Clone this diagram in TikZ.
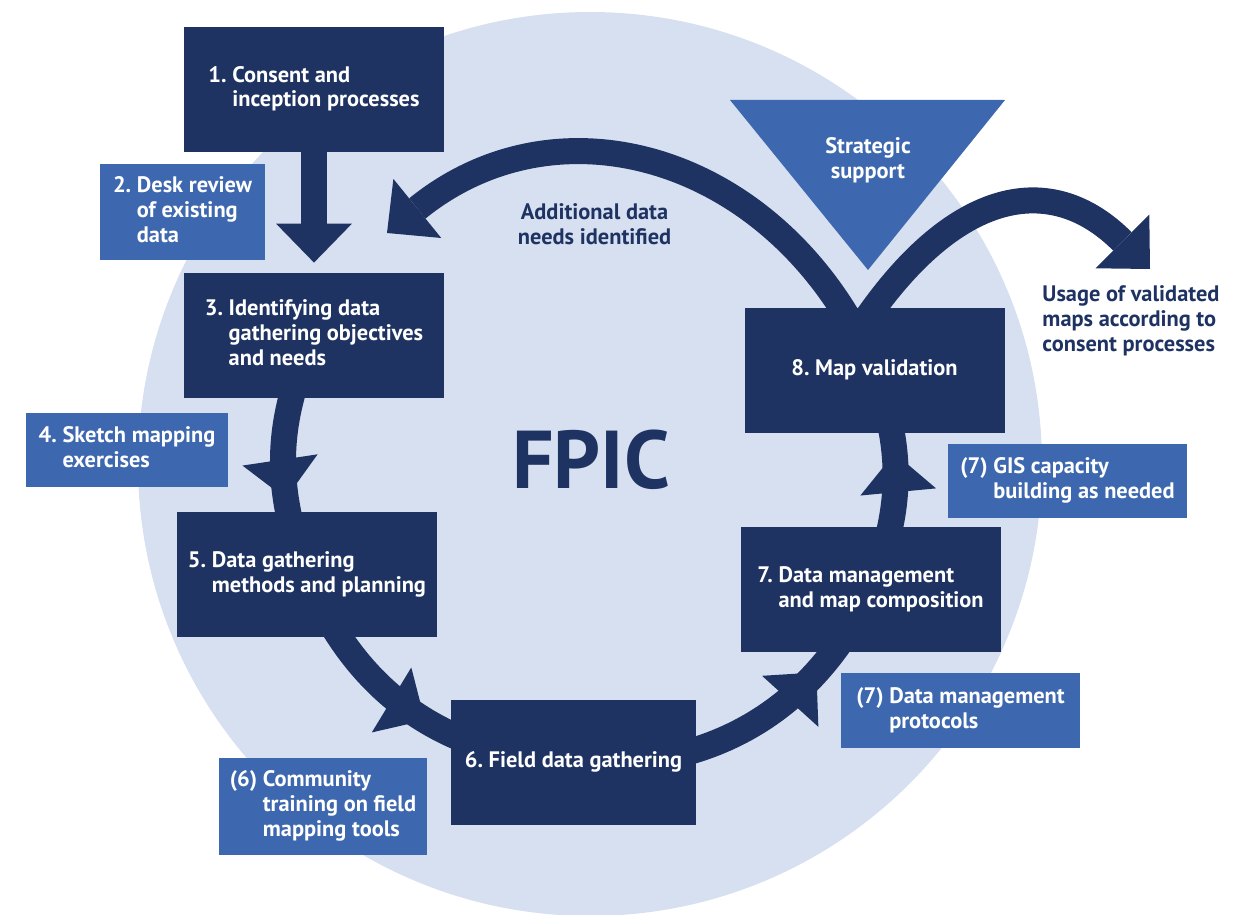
\documentclass[tikz,border=0pt]{standalone}
\usepackage{fontspec}
\setmainfont{PT Sans}
\usetikzlibrary{arrows.meta}
\usetikzlibrary{decorations.markings}
\usetikzlibrary{backgrounds}
\definecolor{navy}{HTML}{1F3363}
\definecolor{midblue}{HTML}{3D68AF}
\definecolor{paleblue}{HTML}{D6E0F1}
\newcommand\boxfont{\fontsize{11.2}{12.5}\selectfont\bfseries}
\newcommand\steptext[2]{\begin{tabular}{@{}l@{\ }l@{}}#1&\begin{tabular}[t]{@{}l@{}}#2\end{tabular}\end{tabular}}
\tikzset{bandtip/.tip={Triangle[width=38pt,length=19.5pt,line width=0pt]}}

\begin{document}
\begin{tikzpicture}[x=0.5pt,y=0.5pt,
  stepbox/.style={fill=navy,text=white,inner sep=0pt,minimum width=130pt,minimum height=62.5pt,font=\boxfont},
  notebox/.style={fill=midblue,text=white,inner sep=0pt,font=\boxfont},
  band/.style={line width=13pt,color=navy},
  cyclemark/.style={postaction={decorate,decoration={markings,mark=at position #1 with {\arrow{bandtip}}}}}]
\useasboundingbox (0,0) rectangle (1248,-915);
% steps on the cycle
\node[stepbox] (n1) at (314,-89.5) {\steptext{1.}{Consent and\\inception processes}};
\node[stepbox] (n3) at (314,-335.5) {\steptext{3.}{Identifying data\\gathering objectives\\and needs}};
\node[stepbox] (n5) at (307,-574.5) {\steptext{5.}{Data gathering\\methods and planning}};
\node[stepbox,minimum width=122.5pt] (n6) at (573.5,-762) {\steptext{6.}{Field data gathering}};
\node[stepbox] (n7) at (870.5,-589.5) {\steptext{7.}{Data management\\and map composition}};
\node[stepbox] (n8) at (874.5,-370) {\steptext{8.}{Map validation}};
% side notes
\node[notebox,minimum width=82.5pt,minimum height=48pt] (b2) at (182.5,-212) {\steptext{2.}{Desk review\\of existing\\data}};
\node[notebox,minimum width=101pt,minimum height=37pt] (b4) at (127,-450) {\steptext{4.}{Sketch mapping\\exercises}};
\node[notebox,minimum width=104pt,minimum height=48.5pt] (b6) at (323,-806.5) {\steptext{(6)}{Community\\training on field\\mapping tools}};
\node[notebox,minimum width=119.5pt,minimum height=37.5pt] (b7p) at (960.5,-710.5) {\steptext{(7)}{Data management\\protocols}};
\node[notebox,minimum width=119.5pt,minimum height=37pt] (b7g) at (1067.5,-481) {\steptext{(7)}{GIS capacity\\building as needed}};
% strategic support
\fill[midblue] (730,-100) coordinate (s1) -- (1005,-100) coordinate (s2) -- (868,-270) coordinate (s3) -- cycle;
\node[text=white,font=\boxfont,align=center] (strat) at (868,-160) {Strategic\\support};
\node[text=navy,font=\boxfont,align=center] (addl) at (594.5,-224.5) {Additional data\\needs identified};
\node[text=navy,font=\boxfont,align=left] (usage) at (1131,-321) {Usage of validated\\maps according to\\consent processes};
\node[text=navy,font=\fontsize{41}{41}\selectfont\bfseries] (fpic) at (591,-460) {FPIC};
\coordinate (backtip) at (387,-233);
\coordinate (usetip) at (1150,-269);
\begin{scope}[on background layer]
\fill[paleblue] (590,-464) circle[radius=452];
\draw[band,-bandtip,shorten >=5pt] (n1) -- (n3);
\draw[band,cyclemark=0.68] (n3.center) to[bend right=23] (n5.center);
\draw[band,cyclemark=0.55] (n5.center) to[bend right=33] (n6.center);
\draw[band,cyclemark=0.73] (n6.center) to[bend right=35] (n7.center);
\draw[band,cyclemark=0.62] (n7.center) to[bend right=21] (n8.center);
\draw[band,-bandtip] (n8.center) to[out=113,in=39,looseness=1.15] (backtip);
\draw[band,-bandtip,shorten <=-6pt] (n8.north) to[out=55,in=135,looseness=1.3] (usetip);
\end{scope}
\end{tikzpicture}
\end{document}
